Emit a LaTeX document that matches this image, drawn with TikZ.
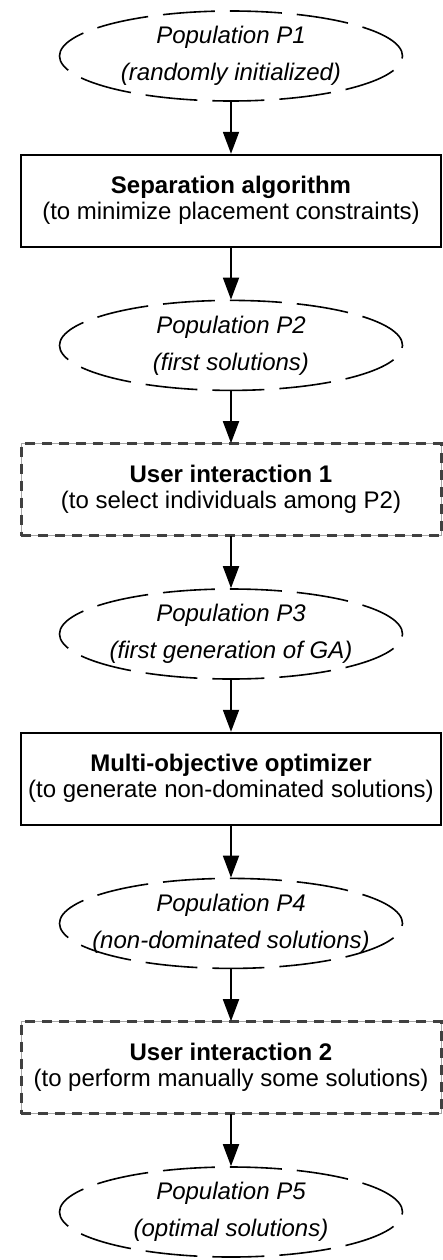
\documentclass[tikz,border=0pt]{standalone}
\usepackage{fontspec}
\setmainfont{Liberation Sans}
\usetikzlibrary{positioning, arrows.meta, shapes.geometric}
\tikzset{
>={Triangle[width=16pt,length=22pt]}, % big filled heads
node distance=52pt, % gap between the stages
poptext/.style={font=\fontsize{24}{37}\selectfont\itshape, align=center, inner sep=0pt},
population/.style={ellipse, draw, line width=1.6pt, dash pattern=on 52pt off 15pt,
  minimum width=343pt, minimum height=90pt, inner sep=0pt,
  label={[poptext]center:#1}}, % text set apart so the ellipse keeps its size
stage/.style={rectangle, draw, line width=1.8pt, minimum width=420pt, minimum height=92pt,
  align=center, font=\fontsize{24}{26}\selectfont},
userstage/.style={stage, draw=gray!70, line width=1pt,
  postaction={draw=black!75, line width=3pt, dash pattern=on 10pt off 7pt}},
flow/.style={->, line width=1.8pt},
}
\begin{document}
\begin{tikzpicture}
\useasboundingbox (0,0) rectangle (442pt,-1260pt);
\node[population={Population P1\\(randomly initialized)}] (p1) at (231pt,-56pt) {};
\node[stage, below=of p1] (sep) {\textbf{Separation algorithm}\\(to minimize placement constraints)};
\node[population={Population P2\\(first solutions)}, below=of sep] (p2) {};
\node[userstage, below=of p2] (ui1) {\textbf{User interaction 1}\\(to select individuals among P2)};
\node[population={Population P3\\(first generation of GA)}, below=of ui1] (p3) {};
\node[stage, below=of p3] (moo) {\textbf{Multi-objective optimizer}\\(to generate non-dominated solutions)};
\node[population={Population P4\\(non-dominated solutions)}, below=of moo] (p4) {};
\node[userstage, below=of p4] (ui2) {\textbf{User interaction 2}\\(to perform manually some solutions)};
\node[population={Population P5\\(optimal solutions)}, below=of ui2] (p5) {};
\draw[flow]
(p1) edge (sep)
(sep) edge (p2)
(p2) edge (ui1)
(ui1) edge (p3)
(p3) edge (moo)
(moo) edge (p4)
(p4) edge (ui2)
(ui2) edge (p5)
;
\end{tikzpicture}
\end{document}
